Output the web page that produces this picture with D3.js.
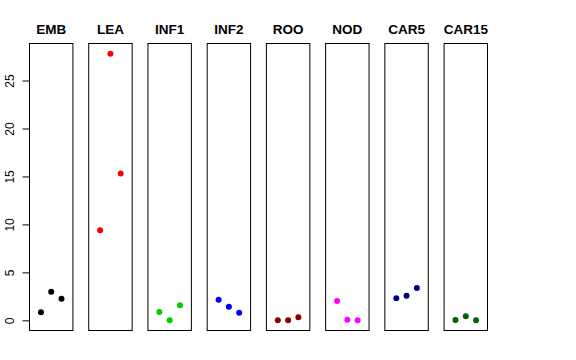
<!DOCTYPE html>
<html>
<head>
<meta charset="utf-8">
<script src="https://cdn.jsdelivr.net/npm/d3@7"></script>
<style>
  body { margin: 0; background: #fff; }
  svg { display: block; font-family: "Liberation Sans", Arial, Helvetica, sans-serif; }
</style>
</head>
<body>
<script>
// Dados: uma categoria por painel, três pontos em cada
const categories = ["EMB", "LEA", "INF1", "INF2", "ROO", "NOD", "CAR5", "CAR15"];
const colors = ["#000000", "#FF0000", "#00CD00", "#0000FF", "#8B0000", "#FF00FF", "#00008B", "#006400"];
const values = [
  [0.83, 2.99, 2.25],
  [9.4, 27.8, 15.3],
  [0.87, 0.0, 1.57],
  [2.15, 1.42, 0.8],
  [0.0, 0.02, 0.31],
  [2.02, 0.06, 0.0],
  [2.3, 2.57, 3.37],
  [0.03, 0.42, 0.0]
];
const yTicks = [0, 5, 10, 15, 20, 25];

const width = 576, height = 360;
const plotTop = 43, plotBottom = 331;

const svg = d3.select("body").append("svg")
  .attr("width", width)
  .attr("height", height);

// Escala dos painéis
const panel = d3.scaleBand()
  .domain(categories)
  .range([29, 488])
  .paddingInner(0.25)
  .paddingOuter(0);

// Escala Y comum (expansão de 4% como no R)
const yMin = 0, yMax = d3.max(values.flat());
const pad = (yMax - yMin) * 0.04;
const y = d3.scaleLinear()
  .domain([yMin - pad, yMax + pad])
  .range([plotBottom, plotTop]);

// Escala X dentro de cada painel: pontos em 1,2,3 com xlim c(0,4)
const x = d3.scaleLinear()
  .domain([-0.16, 4.16])
  .range([0, panel.bandwidth()]);

categories.forEach((cat, i) => {
  const g = svg.append("g")
    .attr("transform", `translate(${panel(cat)},0)`);

  g.append("rect")
    .attr("x", 0.5)
    .attr("y", plotTop + 0.5)
    .attr("width", panel.bandwidth() - 1)
    .attr("height", plotBottom - plotTop - 1)
    .attr("fill", "none")
    .attr("stroke", "#000")
    .attr("stroke-width", 1);

  g.append("text")
    .attr("x", panel.bandwidth() / 2)
    .attr("y", 34)
    .attr("text-anchor", "middle")
    .attr("font-weight", "bold")
    .attr("font-size", "13.5px")
    .text(cat);

  g.selectAll("circle")
    .data(values[i])
    .enter()
    .append("circle")
    .attr("cx", (d, j) => x(j + 1))
    .attr("cy", d => y(d))
    .attr("r", 3)
    .attr("fill", colors[i]);
});

// Eixo Y à esquerda do primeiro painel
const axis = svg.append("g")
  .attr("transform", `translate(${panel(categories[0]) + 0.5},0)`)
  .call(d3.axisLeft(y).tickValues(yTicks).tickSize(7).tickFormat(d3.format("d")));

axis.select(".domain").remove();
axis.append("line")
  .attr("x1", 0).attr("x2", 0)
  .attr("y1", y(0)).attr("y2", y(25))
  .attr("stroke", "#000");

axis.selectAll(".tick line").attr("stroke", "#000");
axis.selectAll(".tick text")
  .attr("x", null)
  .attr("dy", null)
  .attr("text-anchor", "middle")
  .attr("transform", "translate(-16,0) rotate(-90)")
  .attr("font-size", "12px")
  .attr("font-family", "'Liberation Sans', Arial, Helvetica, sans-serif")
  .attr("fill", "#000");
</script>
</body>
</html>
